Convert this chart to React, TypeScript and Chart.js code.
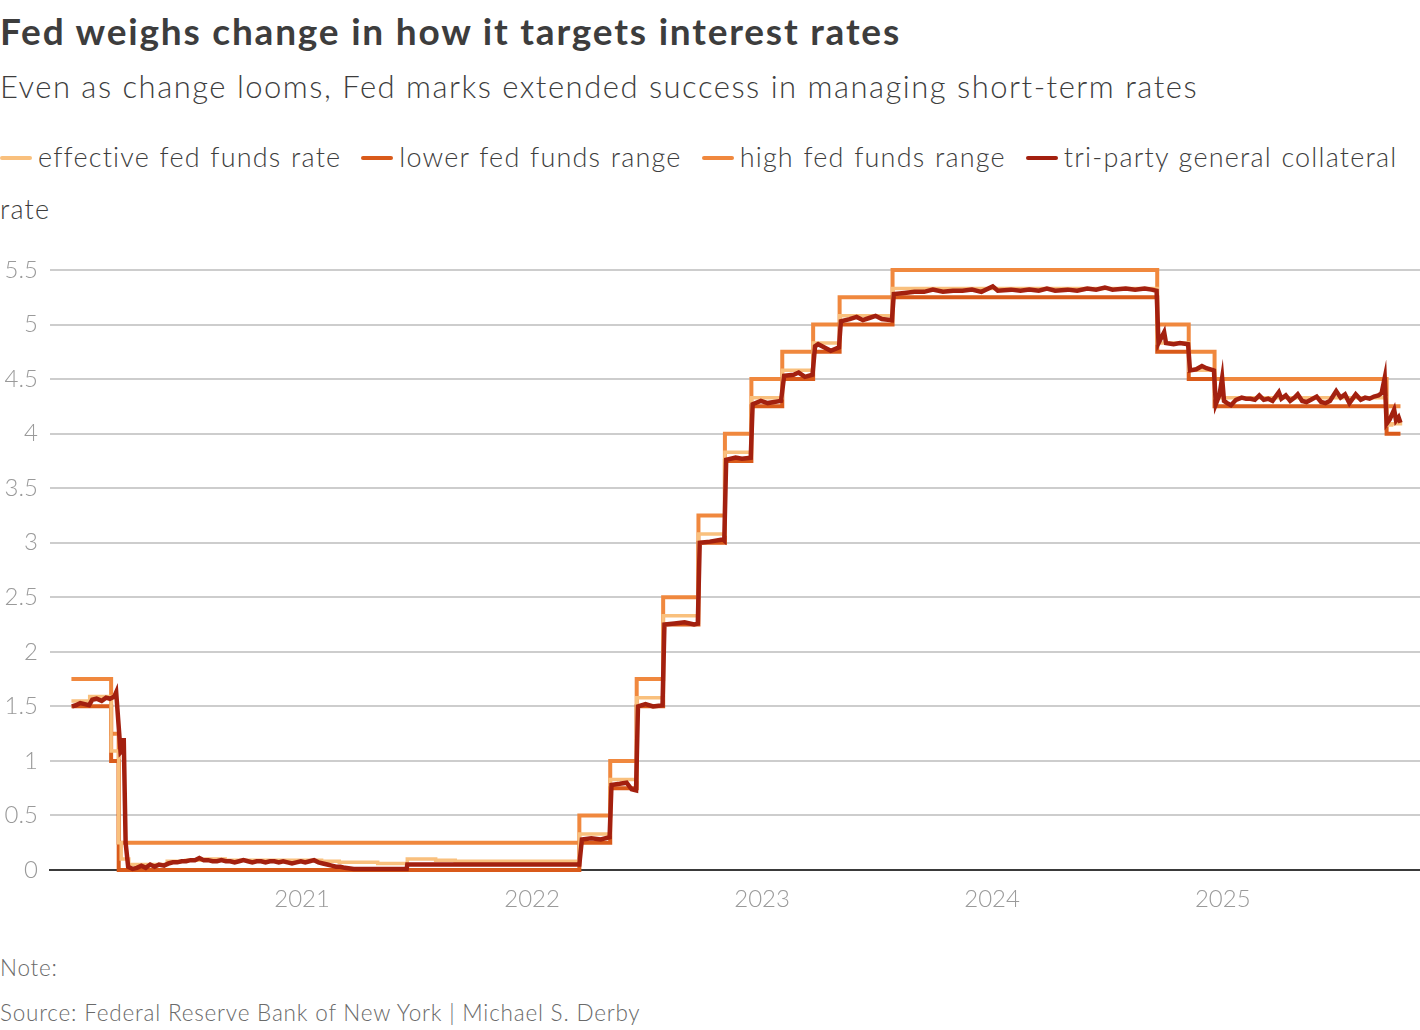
import React, { useEffect, useRef } from "react";
import { Chart, registerables } from "chart.js";

Chart.register(...registerables);

const TITLE = "Fed weighs change in how it targets interest rates";
const SUBTITLE = "Even as change looms, Fed marks extended success in managing short-term rates";
const NOTE = "Note:";
const SOURCE = "Source: Federal Reserve Bank of New York | Michael S. Derby";

const seriesLabels = [
  "effective fed funds rate",
  "lower fed funds range",
  "high fed funds range",
  "tri-party general collateral rate",
];
const seriesColors = ["#f9c07d", "#d95a1a", "#f0883e", "#a3200f"];

const yearTicks = [2021, 2022, 2023, 2024, 2025];

// Fed funds target range changes (value holds until next date)
const rangeDates = [
  "2020-01-01", "2020-03-04", "2020-03-16", "2022-03-17", "2022-05-05",
  "2022-06-16", "2022-07-28", "2022-09-22", "2022-11-03", "2022-12-15",
  "2023-02-02", "2023-03-23", "2023-05-04", "2023-07-27", "2024-09-19",
  "2024-11-08", "2024-12-19", "2025-09-18", "2025-10-10",
];
const lowerValues = [
  1.5, 1.0, 0.0, 0.25, 0.75,
  1.5, 2.25, 3.0, 3.75, 4.25,
  4.5, 4.75, 5.0, 5.25, 4.75,
  4.5, 4.25, 4.0, 4.0,
];
const highValues = [
  1.75, 1.25, 0.25, 0.5, 1.0,
  1.75, 2.5, 3.25, 4.0, 4.5,
  4.75, 5.0, 5.25, 5.5, 5.0,
  4.75, 4.5, 4.25, 4.25,
];

// Effective fed funds rate (stepped)
const effrDates = [
  "2020-01-01", "2020-01-30", "2020-03-04", "2020-03-16", "2020-03-20",
  "2020-04-01", "2020-06-01", "2020-07-01", "2020-08-01", "2020-09-01",
  "2021-02-01", "2021-03-01", "2021-05-01", "2021-06-17", "2021-08-01",
  "2021-09-01", "2022-03-17", "2022-05-05", "2022-06-16", "2022-07-28",
  "2022-09-22", "2022-11-03", "2022-12-15", "2023-02-02", "2023-03-23",
  "2023-05-04", "2023-07-27", "2024-09-19", "2024-11-08", "2024-12-19",
  "2025-09-18", "2025-09-26", "2025-10-10",
];
const effrValues = [
  1.55, 1.59, 1.09, 0.25, 0.1,
  0.05, 0.08, 0.09, 0.1, 0.09,
  0.08, 0.07, 0.06, 0.1, 0.09,
  0.08, 0.33, 0.83, 1.58, 2.33,
  3.08, 3.83, 4.33, 4.58, 4.83,
  5.08, 5.33, 4.83, 4.58, 4.33,
  4.08, 4.09, 4.11,
];

// Tri-party general collateral rate
const tgcrDates = [
  "2020-01-02", "2020-01-08", "2020-01-15", "2020-01-22", "2020-01-29",
  "2020-02-03", "2020-02-10", "2020-02-18", "2020-02-25", "2020-03-02",
  "2020-03-09", "2020-03-12", "2020-03-19", "2020-03-22", "2020-03-24",
  "2020-03-27", "2020-03-31", "2020-04-07", "2020-04-14", "2020-04-21",
  "2020-04-28", "2020-05-05", "2020-05-12", "2020-05-19", "2020-05-27",
  "2020-06-03", "2020-06-10", "2020-06-17", "2020-06-24", "2020-07-01",
  "2020-07-08", "2020-07-15", "2020-07-22", "2020-07-29", "2020-08-05",
  "2020-08-12", "2020-08-19", "2020-08-26", "2020-09-02", "2020-09-09",
  "2020-09-16", "2020-09-23", "2020-09-30", "2020-10-07", "2020-10-14",
  "2020-10-21", "2020-10-28", "2020-11-04", "2020-11-11", "2020-11-18",
  "2020-11-25", "2020-12-02", "2020-12-09", "2020-12-16", "2020-12-23",
  "2020-12-30", "2021-01-06", "2021-01-13", "2021-01-20", "2021-01-27",
  "2021-02-03", "2021-02-10", "2021-02-17", "2021-02-24", "2021-03-03",
  "2021-03-10", "2021-03-24", "2021-04-07", "2021-04-21", "2021-05-05",
  "2021-05-19", "2021-06-02", "2021-06-16", "2021-06-17", "2021-07-15",
  "2021-09-01", "2021-12-01", "2022-01-05", "2022-03-17", "2022-03-21",
  "2022-04-05", "2022-04-20", "2022-05-04", "2022-05-07", "2022-05-20",
  "2022-05-31", "2022-06-08", "2022-06-15", "2022-06-18", "2022-06-30",
  "2022-07-12", "2022-07-27", "2022-07-30", "2022-08-15", "2022-08-31",
  "2022-09-15", "2022-09-21", "2022-09-24", "2022-10-10", "2022-10-31",
  "2022-11-02", "2022-11-05", "2022-11-20", "2022-11-30", "2022-12-14",
  "2022-12-17", "2022-12-30", "2023-01-10", "2023-01-20", "2023-01-31",
  "2023-02-05", "2023-02-20", "2023-02-28", "2023-03-10", "2023-03-22",
  "2023-03-26", "2023-03-31", "2023-04-10", "2023-04-20", "2023-05-03",
  "2023-05-06", "2023-05-20", "2023-05-31", "2023-06-10", "2023-06-20",
  "2023-06-30", "2023-07-10", "2023-07-26", "2023-07-29", "2023-08-15",
  "2023-08-31", "2023-09-15", "2023-09-29", "2023-10-15", "2023-10-31",
  "2023-11-15", "2023-11-30", "2023-12-15", "2024-01-02", "2024-01-10",
  "2024-01-31", "2024-02-15", "2024-02-29", "2024-03-15", "2024-03-28",
  "2024-04-10", "2024-04-30", "2024-05-15", "2024-05-31", "2024-06-14",
  "2024-06-28", "2024-07-10", "2024-07-31", "2024-08-15", "2024-08-30",
  "2024-09-10", "2024-09-18", "2024-09-21", "2024-09-30", "2024-10-03",
  "2024-10-15", "2024-10-25", "2024-11-07", "2024-11-10", "2024-11-20",
  "2024-11-29", "2024-12-06", "2024-12-18", "2024-12-21", "2024-12-27",
  "2024-12-31", "2025-01-03", "2025-01-08", "2025-01-14", "2025-01-22",
  "2025-01-31", "2025-02-07", "2025-02-14", "2025-02-21", "2025-02-28",
  "2025-03-07", "2025-03-14", "2025-03-21", "2025-03-31", "2025-04-04",
  "2025-04-11", "2025-04-18", "2025-04-25", "2025-04-30", "2025-05-07",
  "2025-05-14", "2025-05-21", "2025-05-30", "2025-06-06", "2025-06-13",
  "2025-06-20", "2025-06-30", "2025-07-07", "2025-07-14", "2025-07-21",
  "2025-07-31", "2025-08-08", "2025-08-15", "2025-08-22", "2025-08-29",
  "2025-09-05", "2025-09-10", "2025-09-15", "2025-09-18", "2025-09-23",
  "2025-09-30", "2025-10-03", "2025-10-07", "2025-10-10",
];
const tgcrValues = [
  1.5, 1.51, 1.53, 1.52, 1.51,
  1.56, 1.57, 1.55, 1.58, 1.57,
  1.59, 1.63, 1.08, 1.1, 1.21,
  0.25, 0.03, 0.01, 0.02, 0.04,
  0.02, 0.05, 0.03, 0.05, 0.04,
  0.06, 0.07, 0.07, 0.08, 0.08,
  0.09, 0.09, 0.11, 0.09, 0.09,
  0.08, 0.08, 0.09, 0.08, 0.08,
  0.07, 0.08, 0.09, 0.08, 0.07,
  0.08, 0.08, 0.07, 0.08, 0.08,
  0.07, 0.08, 0.07, 0.06, 0.07,
  0.08, 0.07, 0.08, 0.09, 0.07,
  0.06, 0.05, 0.04, 0.03, 0.03,
  0.02, 0.01, 0.01, 0.01, 0.01,
  0.01, 0.01, 0.01, 0.05, 0.05,
  0.05, 0.05, 0.05, 0.05, 0.28,
  0.29, 0.28, 0.3, 0.78, 0.79,
  0.8, 0.74, 0.73, 1.5, 1.52,
  1.5, 1.51, 2.25, 2.26, 2.27,
  2.25, 2.26, 3.0, 3.01, 3.03,
  3.02, 3.76, 3.78, 3.77, 3.78,
  4.27, 4.3, 4.28, 4.29, 4.3,
  4.53, 4.54, 4.56, 4.52, 4.54,
  4.8, 4.82, 4.79, 4.76, 4.79,
  5.03, 5.05, 5.07, 5.04, 5.06,
  5.08, 5.05, 5.04, 5.28, 5.29,
  5.3, 5.3, 5.32, 5.3, 5.31,
  5.31, 5.32, 5.3, 5.35, 5.31,
  5.32, 5.31, 5.32, 5.31, 5.33,
  5.31, 5.32, 5.31, 5.33, 5.32,
  5.34, 5.32, 5.33, 5.32, 5.33,
  5.32, 5.31, 4.83, 4.93, 4.83,
  4.82, 4.83, 4.82, 4.58, 4.59,
  4.62, 4.6, 4.58, 4.27, 4.36,
  4.51, 4.3, 4.28, 4.26, 4.31,
  4.33, 4.32, 4.32, 4.31, 4.35,
  4.31, 4.32, 4.3, 4.38, 4.32,
  4.35, 4.3, 4.33, 4.36, 4.3,
  4.29, 4.31, 4.34, 4.29, 4.28,
  4.3, 4.39, 4.33, 4.36, 4.28,
  4.36, 4.31, 4.33, 4.32, 4.34,
  4.35, 4.37, 4.51, 4.09, 4.13,
  4.22, 4.12, 4.15, 4.1,
];

const FONT = "Lato, 'Noto Sans', sans-serif";
const toMs = (d: string) => Date.parse(d + "T00:00:00Z");
const pts = (dates: string[], vals: number[]) =>
  dates.map((d, i) => ({ x: toMs(d), y: vals[i] }));

export default function App() {
  const ref = useRef<HTMLCanvasElement | null>(null);

  useEffect(() => {
    if (!ref.current) return;
    const chart = new Chart(ref.current, {
      type: "line",
      data: {
        datasets: [
          {
            label: seriesLabels[3],
            data: pts(tgcrDates, tgcrValues),
            borderColor: seriesColors[3],
            borderWidth: 4.5,
            pointRadius: 0,
            tension: 0,
            clip: false as any,
          },
          {
            label: seriesLabels[0],
            data: pts(effrDates, effrValues),
            borderColor: seriesColors[0],
            borderWidth: 3.5,
            pointRadius: 0,
            stepped: true,
            clip: false as any,
          },
          {
            label: seriesLabels[1],
            data: pts(rangeDates, lowerValues),
            borderColor: seriesColors[1],
            borderWidth: 4,
            pointRadius: 0,
            stepped: true,
            clip: false as any,
          },
          {
            label: seriesLabels[2],
            data: pts(rangeDates, highValues),
            borderColor: seriesColors[2],
            borderWidth: 4,
            pointRadius: 0,
            stepped: true,
            clip: false as any,
          },
        ],
      },
      options: {
        animation: false,
        responsive: false,
        maintainAspectRatio: false,
        layout: { padding: { top: 30, left: 0, right: 0, bottom: 0 } },
        plugins: { legend: { display: false }, tooltip: { enabled: false } },
        elements: { point: { radius: 0 } },
        scales: {
          x: {
            type: "linear",
            min: toMs("2019-11-28"),
            max: toMs("2025-11-10"),
            grid: { display: false, drawTicks: false },
            border: { display: true, color: "#3a3a3a", width: 2 },
            afterBuildTicks: (s: any) => {
              s.ticks = yearTicks.map((y) => ({ value: toMs(y + "-01-01") }));
            },
            afterFit: (s: any) => {
              s.height = 70;
            },
            ticks: {
              autoSkip: false,
              maxRotation: 0,
              padding: 15,
              color: "#9a9a9a",
              font: { family: FONT, size: 24, weight: "300" as any },
              callback: (v: any) => String(new Date(Number(v)).getUTCFullYear()),
            },
          },
          y: {
            min: 0,
            max: 5.5,
            afterFit: (s: any) => {
              s.width = 50;
            },
            grid: {
              color: (ctx: any) => (ctx.tick && ctx.tick.value === 0 ? "rgba(0,0,0,0)" : "#cdcdcd"),
              lineWidth: 2,
              drawTicks: false,
            },
            border: { display: false },
            ticks: {
              stepSize: 0.5,
              padding: 12,
              color: "#9a9a9a",
              font: { family: FONT, size: 24, weight: "300" as any },
              callback: (v: any) => String(v),
            },
          },
        },
      },
    });
    return () => chart.destroy();
  }, []);

  const textColor = "#3d3d3d";

  return (
    <div
      style={{
        position: "absolute",
        left: 0,
        top: 0,
        width: 1420,
        height: 1030,
        fontFamily: FONT,
        color: textColor,
        background: "#ffffff",
        overflow: "hidden",
      }}
    >
      <div style={{ position: "absolute", left: 0, top: 9, fontSize: 37, lineHeight: "44px", fontWeight: 700, letterSpacing: "1.8px", whiteSpace: "nowrap" }}>
        {TITLE}
      </div>
      <div style={{ position: "absolute", left: 0, top: 67, fontSize: 31, lineHeight: "38px", fontWeight: 300, letterSpacing: "1.5px", whiteSpace: "nowrap" }}>
        {SUBTITLE}
      </div>
      <div style={{ position: "absolute", left: 0, top: 131, width: 1420, fontSize: 27, lineHeight: "52px", fontWeight: 300, letterSpacing: "1.2px", wordSpacing: "1px" }}>
        {seriesLabels.map((l, i) => (
          <span key={i} style={{ marginRight: 20 }}>
            <span
              style={{
                display: "inline-block",
                width: 32,
                height: 4,
                borderRadius: 2,
                background: seriesColors[i],
                verticalAlign: "middle",
                marginRight: 6,
                position: "relative",
                top: -2,
              }}
            />
            {l}
          </span>
        ))}
      </div>
      <canvas
        ref={ref}
        width={1420}
        height={700}
        style={{ position: "absolute", left: 0, top: 240, width: 1420, height: 700 }}
      />
      <div style={{ position: "absolute", left: 0, top: 953, fontSize: 22.5, lineHeight: "30px", fontWeight: 300, letterSpacing: "0.8px", color: "#6a6a6a" }}>
        {NOTE}
      </div>
      <div style={{ position: "absolute", left: 0, top: 998, fontSize: 22.5, lineHeight: "30px", fontWeight: 300, letterSpacing: "0.8px", color: "#6a6a6a", whiteSpace: "nowrap" }}>
        {SOURCE}
      </div>
    </div>
  );
}
